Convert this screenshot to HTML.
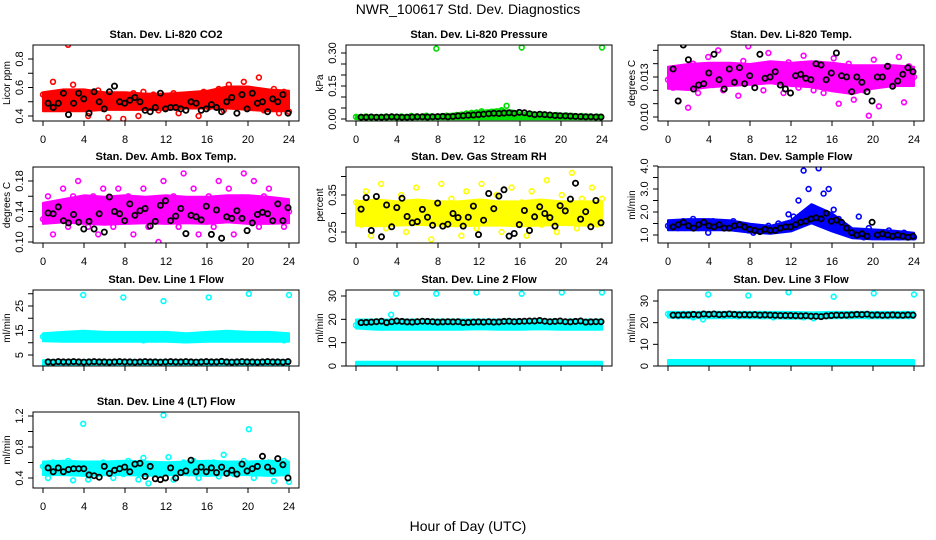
<!DOCTYPE html>
<html><head><meta charset="utf-8"><title>NWR_100617 Std. Dev. Diagnostics</title>
<style>
html,body{margin:0;padding:0;background:#fff;}
svg{display:block;font-family:"Liberation Sans",Arial,sans-serif;}
</style></head>
<body>
<svg id="chart" width="936" height="540" viewBox="0 0 936 540">
<rect x="0" y="0" width="936" height="540" fill="#fff"/>
<text x="468" y="14" font-size="14" text-anchor="middle">NWR_100617  Std. Dev. Diagnostics</text>
<text x="468" y="531" font-size="14" text-anchor="middle">Hour of Day (UTC)</text>
</svg>
<script>
// ---- data ----
const co2Lo=[.44,.44,.44,.45,.45,.45,.45,.46,.46,.46,.45,.44,.44];
const co2Hi=[.56,.58,.58,.56,.56,.55,.55,.56,.57,.60,.60,.58,.57];
const co2Pts=[.55,.50,.64,.47,.52,.90,.62,.48,.56,.40,.53,.58,.45,.39,.55,.52,.38,.50,.56,.40,.57,.49,.55,.44,.53,.50,.56,.42,.52,.47,.55,.40,.57,.46,.53,.59,.44,.62,.50,.56,.64,.48,.58,.67,.44,.52,.59,.42,.57,.43];
const co2Blk=[.49,.46,.49,.56,.41,.49,.56,.52,.42,.57,.50,.45,.57,.61,.50,.49,.51,.53,.50,.44,.43,.46,.56,.45,.46,.46,.45,.44,.50,.49,.44,.45,.48,.46,.43,.50,.53,.42,.55,.45,.56,.49,.50,.43,.52,.50,.55,.42];

const presLo=[.003,.003,.003,.003,.003,.003,.003,.003,.003,.003,.003,.003,.003];
const presHi=[.012,.012,.012,.013,.015,.022,.032,.040,.025,.020,.018,.015,.012];
const presPts=[.01,.01,.012,.01,.008,.01,.012,.01,.01,.012,.01,.014,.012,.01,.015,.012,.32,.012,.015,.014,.018,.02,.025,.028,.03,.035,.03,.033,.035,.04,.06,.03,.025,.325,.02,.022,.018,.02,.015,.016,.018,.015,.016,.014,.012,.014,.012,.01,.012,.325];
const presBlk=[.008,.008,.009,.008,.008,.009,.01,.009,.008,.008,.009,.01,.01,.009,.01,.011,.012,.01,.012,.014,.015,.017,.018,.02,.022,.024,.026,.025,.027,.028,.026,.03,.028,.024,.02,.022,.02,.018,.016,.015,.014,.013,.012,.011,.01,.01,.009,.009];

const tmpLo=[.0122,.0121,.0123,.0124,.0125,.0126,.0124,.0123,.0120,.0118,.0122,.0124,.0124];
const tmpHi=[.0137,.0139,.0140,.0140,.0139,.0141,.0140,.0141,.0140,.0138,.0138,.0138,.0137];
const tmpPts=[.0128,.0122,.0112,.0135,.0107,.0140,.0118,.0130,.0145,.0124,.0150,.0120,.0138,.0132,.0116,.0142,.0153,.0125,.0135,.0120,.0148,.0130,.0127,.0118,.0141,.0137,.0122,.0146,.0130,.0120,.0140,.0118,.0132,.0144,.0110,.0125,.0140,.0113,.0135,.0120,.0101,.0143,.0108,.0132,.0138,.0124,.0145,.0111,.0138,.0130];
const tmpBlk=[.0136,.0112,.0154,.0143,.0121,.0124,.0125,.0133,.0147,.0128,.0121,.0136,.0126,.0137,.0125,.0131,.0122,.0147,.0129,.0130,.0134,.0124,.0121,.0118,.0131,.0132,.0129,.0128,.0140,.0139,.0128,.0133,.0148,.0131,.0130,.0119,.0130,.0126,.0119,.0112,.0130,.0130,.0138,.0123,.0127,.0132,.0137,.0134];

const ambLo=[.125,.127,.125,.124,.125,.126,.125,.126,.125,.127,.125,.125,.126];
const ambHi=[.150,.155,.160,.158,.160,.158,.160,.158,.158,.160,.160,.158,.155];
const ambPts=[.13,.16,.11,.15,.17,.12,.16,.18,.14,.12,.16,.11,.17,.15,.12,.17,.13,.16,.11,.14,.17,.12,.15,.10,.18,.13,.16,.12,.19,.14,.17,.11,.15,.16,.12,.18,.14,.17,.11,.15,.19,.13,.18,.12,.16,.17,.13,.15,.12,.14];
const ambBlk=[.138,.137,.146,.128,.125,.136,.126,.117,.127,.117,.137,.113,.159,.140,.137,.128,.150,.135,.141,.144,.121,.127,.148,.154,.128,.134,.144,.111,.135,.133,.129,.147,.110,.142,.105,.133,.131,.141,.131,.115,.125,.136,.139,.137,.128,.150,.128,.145];

const rhLo=[.27,.268,.27,.272,.27,.268,.27,.27,.268,.27,.272,.27,.27];
const rhHi=[.33,.335,.33,.335,.33,.33,.335,.33,.33,.335,.33,.33,.33];
const rhPts=[.33,.27,.36,.24,.30,.38,.26,.32,.29,.35,.25,.31,.37,.28,.33,.23,.30,.38,.27,.34,.29,.24,.36,.31,.26,.38,.33,.28,.35,.25,.31,.37,.28,.33,.24,.36,.30,.27,.39,.32,.25,.35,.29,.41,.26,.34,.31,.37,.27,.34];
const rhBlk=[.312,.343,.254,.346,.237,.323,.264,.316,.341,.292,.275,.278,.311,.290,.268,.328,.266,.271,.300,.289,.266,.290,.320,.243,.282,.354,.313,.347,.364,.239,.246,.270,.308,.254,.291,.318,.300,.289,.266,.321,.307,.339,.382,.285,.305,.264,.335,.275];

const sfLo=[1.25,1.25,1.25,1.25,1.15,1.1,1.2,1.55,1.2,0.9,0.85,0.85,0.85];
const sfHi=[1.6,1.65,1.65,1.6,1.45,1.35,1.6,2.3,1.9,1.25,1.2,1.15,1.05];
const sfPts=[1.4,1.5,1.3,1.6,1.4,1.7,1.3,1.5,1.1,1.6,1.4,1.5,1.3,1.6,1.4,1.3,1.2,1.1,1.3,1.2,1.4,1.3,1.5,1.4,1.9,1.8,2.5,3.8,3.0,2.2,3.9,2.8,3.0,2.1,1.7,1.4,1.2,1.1,1.8,0.9,1.3,1.0,1.1,0.9,1.2,1.0,0.9,1.1,0.9,0.9];
const sfBlk=[1.35,1.45,1.55,1.4,1.3,1.45,1.55,1.4,1.35,1.45,1.3,1.3,1.4,1.45,1.35,1.25,1.2,1.15,1.25,1.2,1.2,1.3,1.35,1.35,1.45,1.55,1.6,1.7,1.75,1.7,1.95,1.6,1.65,1.55,1.3,1.1,1.0,1.05,0.95,1.55,1.0,1.05,1.0,0.95,1.0,0.95,0.9,0.95];

const l1Lo=[11,10.8,10.8,10.8,10.8,10.8,10.8,10.5,10.8,10.8,10.8,10.8,10.8];
const l1Hi=[13.5,14,14.5,14,14,14,14,13.5,14,14.5,14,14,13.5];
const l1Lo2=[1.2,1.2,1.2,1.2,1.2,1.2,1.2,1.2,1.2,1.2,1.2,1.2,1.2];
const l1Hi2=[2.5,2.5,2.5,2.5,2.5,2.5,2.5,2.5,2.5,2.5,2.5,2.5,2.5];
const l1Pts=[12.5,13,11.5,12,13.5,12,12.5,13,29.5,12,13,12.5,11.5,13,12,12.5,28.5,12,13,12.5,11,12.5,13,12,27,12.5,13,12,11,12.5,13,12,12.5,28.5,12,13,12.5,13.5,12,13,12.5,30,12,13,12.5,12,13,12.5,11,29.5];
const l1Blk=[2.2,2.1,2.3,2.2,2.2,2.3,2.2,2.1,2.2,2.3,2.2,2.2,2.1,2.2,2.3,2.2,2.2,2.1,2.2,2.3,2.2,2.2,2.1,2.2,2.3,2.2,2.2,2.3,2.2,2.1,2.2,2.3,2.2,2.2,2.4,2.2,2.1,2.2,2.3,2.2,2.2,2.1,2.2,2.3,2.2,2.2,2.1,2.3];

const l2Lo=[16.5,16,16,16,16,16,16.2,16,16,16.2,16,16,16];
const l2Hi=[19.5,19.5,19.5,19.5,19.5,19.5,19.5,19.5,19.5,19.5,19.5,19.5,19.5];
const l2Lo2=[0.5,0.5,0.5,0.5,0.5,0.5,0.5,0.5,0.5,0.5,0.5,0.5,0.5];
const l2Hi2=[1.4,1.4,1.4,1.4,1.4,1.4,1.4,1.4,1.4,1.4,1.4,1.4,1.4];
const l2Pts=[17.5,18,17,18.5,17,18,17.5,22,31,17.5,18,17,18.5,17.5,17,18,31,17.5,18,17,18,16.5,17.5,18,31.5,17.5,18,17,18,17.5,17,18,17.5,31,17.5,18,17,18.5,17.5,18,17,31.5,17.5,18,17,18,17.5,17,18,31.5];
const l2Blk=[18.6,18.7,18.8,19,19.2,18.6,19,19.3,19.1,18.9,18.8,19,19.2,19.1,19,18.8,18.9,19,18.9,19,18.6,18.7,18.8,18.9,18.8,19,18.8,18.9,19.1,19.2,19,19.1,19.2,19.3,19.3,19.5,19.2,19,19.1,19.3,19,18.9,19.1,19.3,18.8,18.9,19,19];

const l3Lo=[22.8,22.5,22.5,22.6,22.5,22.5,22.3,22.5,22.5,22.6,22.5,22.5,22.6];
const l3Hi=[24.5,24.5,24.5,24.5,24.5,24.5,24.5,24.3,24.5,24.5,24.5,24.5,24.5];
const l3Lo2=[1,1,1,1,1,1,1,1,1,1,1,1,1];
const l3Hi2=[2.3,2.3,2.3,2.3,2.3,2.3,2.3,2.3,2.3,2.3,2.3,2.3,2.3];
const l3Pts=[24,23.5,23,24,23.5,22.5,23.5,21.5,33,23.5,24,23,24,23.5,23,24,32.5,23.5,24,23,23.5,22.5,23.5,24,34,23.5,23,22.5,23,22,23,23.5,24,32,23.5,24,23,24,23.5,24,23,33.5,23.5,24,23,24,23.5,24,23,33];
const l3Blk=[23.5,23.5,23.6,23.6,23.8,23.6,24,23.8,24,23.7,23.8,24,23.8,23.6,23.7,23.6,23.7,23.5,23.6,23.5,23.4,23.3,23.3,23.3,23.2,23.1,23.2,23,23,22.8,23.1,23.3,23.5,23.4,23.5,23.6,23.8,23.7,23.9,23.5,23.6,23.4,23.5,23.6,23.5,23.4,23.6,23.5];

const l4Lo=[.45,.45,.44,.45,.45,.44,.45,.45,.44,.45,.45,.44,.45];
const l4Hi=[.60,.61,.60,.60,.61,.60,.59,.60,.61,.60,.60,.61,.60];
const l4Pts=[.55,.40,.60,.47,.52,.62,.37,.58,1.10,.38,.55,.45,.60,.50,.40,.57,.45,.62,.50,.38,.66,.33,.55,.47,1.21,.67,.38,.52,.60,.46,.62,.40,.55,.48,.60,.42,.70,.50,.45,.58,.62,1.03,.40,.56,.50,.60,.36,.55,.62,.35];
const l4Blk=[.53,.48,.53,.48,.51,.52,.52,.52,.44,.43,.41,.55,.46,.50,.52,.54,.48,.58,.59,.42,.55,.39,.38,.40,.53,.40,.47,.49,.63,.48,.54,.48,.53,.47,.54,.46,.50,.45,.58,.49,.52,.55,.68,.54,.49,.65,.57,.40];

const xTicks=[0,4,8,12,16,20,24];

// ---- layout ----
const cols=[33,346,658], rows=[45,167,290,412], BW=266, BH=76;
const panels=[
 {id:'co2',title:'Stan. Dev. Li-820 CO2',ylab:'Licor ppm',c:0,r:0,col:'#ff0000',cal:[0.4,116,0.8,59],ticks:[.4,.5,.6,.7,.8],labs:{'0.4':'0.4','0.6':'0.6','0.8':'0.8'},bands:[[co2Lo,co2Hi]],pts:co2Pts,blk:co2Blk},
 {id:'pressure',title:'Stan. Dev. Li-820 Pressure',ylab:'kPa',c:1,r:0,col:'#00dd00',cal:[0,119,0.3,53],ticks:[0,.05,.1,.15,.2,.25,.3],labs:{'0':'0.00','0.15':'0.15','0.3':'0.30'},bands:[[presLo,presHi]],pts:presPts,blk:presBlk},
 {id:'temp',title:'Stan. Dev. Li-820 Temp.',ylab:'degrees C',c:2,r:0,col:'#ff00ff',cal:[0.010,117,0.013,77],ticks:[.010,.011,.012,.013,.014,.015],labs:{'0.01':'0.010','0.013':'0.013'},bands:[[tmpLo,tmpHi]],pts:tmpPts,blk:tmpBlk},
 {id:'amb-temp',title:'Stan. Dev. Amb. Box Temp.',ylab:'degrees C',c:0,r:1,col:'#ff00ff',cal:[0.10,242,0.18,181],ticks:[.10,.12,.14,.16,.18],labs:{'0.1':'0.10','0.14':'0.14','0.18':'0.18'},bands:[[ambLo,ambHi]],pts:ambPts,blk:ambBlk},
 {id:'rh',title:'Stan. Dev. Gas Stream RH',ylab:'percent',c:1,r:1,col:'#ffff00',cal:[0.25,232,0.35,195],ticks:[.25,.30,.35,.40],labs:{'0.25':'0.25','0.35':'0.35'},bands:[[rhLo,rhHi]],pts:rhPts,blk:rhBlk},
 {id:'sample-flow',title:'Stan. Dev. Sample Flow',ylab:'ml/min',c:2,r:1,col:'#0000ff',cal:[1.0,235,4.0,166],ticks:[1,1.5,2,2.5,3,3.5,4],labs:{'1':'1.0','2':'2.0','3':'3.0','4':'4.0'},bands:[[sfLo,sfHi]],pts:sfPts,blk:sfBlk},
 {id:'line1',title:'Stan. Dev. Line 1 Flow',ylab:'ml/min',c:0,r:2,col:'#00ffff',cal:[5,355,25,306],ticks:[5,10,15,20,25,30],labs:{'5':'5','15':'15','25':'25'},bands:[[l1Lo,l1Hi],[l1Lo2,l1Hi2]],pts:l1Pts,blk:l1Blk},
 {id:'line2',title:'Stan. Dev. Line 2 Flow',ylab:'ml/min',c:1,r:2,col:'#00ffff',cal:[0,366,30,296],ticks:[0,10,20,30],labs:{'0':'0','10':'10','20':'20','30':'30'},bands:[[l2Lo,l2Hi],[l2Lo2,l2Hi2]],pts:l2Pts,blk:l2Blk},
 {id:'line3',title:'Stan. Dev. Line 3 Flow',ylab:'ml/min',c:2,r:2,col:'#00ffff',cal:[0,366,30,301],ticks:[0,10,20,30],labs:{'0':'0','10':'10','20':'20','30':'30'},bands:[[l3Lo,l3Hi],[l3Lo2,l3Hi2]],pts:l3Pts,blk:l3Blk},
 {id:'line4',title:'Stan. Dev. Line 4 (LT) Flow',ylab:'ml/min',c:0,r:3,col:'#00ffff',cal:[0.4,478,1.2,416],ticks:[.4,.6,.8,1,1.2],labs:{'0.4':'0.4','0.8':'0.8','1.2':'1.2'},bands:[[l4Lo,l4Hi]],pts:l4Pts,blk:l4Blk}
];
const NS='http://www.w3.org/2000/svg';
const svg=document.getElementById('chart');
function mk(tag,attrs,parent){const e=document.createElementNS(NS,tag);for(const k in attrs)e.setAttribute(k,attrs[k]);(parent||svg).appendChild(e);return e;}
panels.forEach(p=>{
  const L=cols[p.c],T=rows[p.r],R=L+BW,B=T+BH;
  const g=mk('g',{});
  
  
  const xs=h=>L+10+h*(BW-20)/24;
  const ys=v=>p.cal[1]+(v-p.cal[0])*(p.cal[3]-p.cal[1])/(p.cal[2]-p.cal[0]);
  const clip='clip-'+p.id;
  const cp=mk('clipPath',{id:clip},g);mk('rect',{x:L,y:T,width:BW,height:BH},cp);
  const plot=mk('g',{'clip-path':'url(#'+clip+')'},g);
  p.bands.forEach((bd,bi)=>{
    const lo=bd[0],hi=bd[1];let d='';
    hi.forEach((v,i)=>{d+=(i?'L':'M')+xs(i*24/(hi.length-1)).toFixed(1)+','+(ys(v)-1).toFixed(1);});
    for(let i=lo.length-1;i>=0;i--)d+='L'+xs(i*24/(lo.length-1)).toFixed(1)+','+(ys(lo[i])+1).toFixed(1);
    const e=mk('path',{d:d+'Z',fill:p.col,stroke:p.col,'stroke-width':2,'stroke-linejoin':'round'},plot);
    
    
  });
  p.pts.forEach((v,i)=>{
    const e=mk('circle',{cx:xs(i*24/(p.pts.length-1)).toFixed(1),cy:ys(v).toFixed(1),r:2.4,fill:'none',stroke:p.col,'stroke-width':1.6},plot);
    
    
  });
  p.blk.forEach((v,i)=>{
    const e=mk('circle',{cx:xs(0.5+i*23.4/(p.blk.length-1)).toFixed(1),cy:ys(v).toFixed(1),r:2.6,fill:'none',stroke:'#000','stroke-width':1.8},plot);
    
    
  });
  const box=mk('rect',{x:L,y:T,width:BW,height:BH,fill:'none',stroke:'#000','stroke-width':1},g);
  
  
  const t=mk('text',{x:L+BW/2,y:T-7,'font-size':11,'font-weight':'bold','text-anchor':'middle'},g);
  t.textContent=p.title;
  
  
  mk('line',{x1:xs(0),x2:xs(24),y1:B,y2:B,stroke:'#000'},g);
  xTicks.forEach(h=>{
    mk('line',{x1:xs(h),x2:xs(h),y1:B,y2:B+5,stroke:'#000'},g);
    if(p.r!==2){const tx=mk('text',{x:xs(h),y:B+22,'font-size':11,'text-anchor':'middle'},g);tx.textContent=h;
    
    }
  });
  const y0=ys(p.ticks[0]),y1=ys(p.ticks[p.ticks.length-1]);
  mk('line',{x1:L,x2:L,y1:y0,y2:y1,stroke:'#000'},g);
  p.ticks.forEach(v=>{
    const yy=ys(v);
    mk('line',{x1:L-5,x2:L,y1:yy,y2:yy,stroke:'#000'},g);
    const key=String(+v.toFixed(4));
    if(p.labs[key]){const tx=mk('text',{x:0,y:0,'font-size':11,'text-anchor':'middle',transform:'translate('+(L-10)+','+yy+') rotate(-90)'},g);tx.textContent=p.labs[key];
    
    }
  });
  const yl=mk('text',{x:0,y:0,'font-size':10,'text-anchor':'middle',transform:'translate('+(L-23)+','+(T+BH/2)+') rotate(-90)'},g);
  yl.textContent=p.ylab;
  
  
});
</script>
</body></html>
